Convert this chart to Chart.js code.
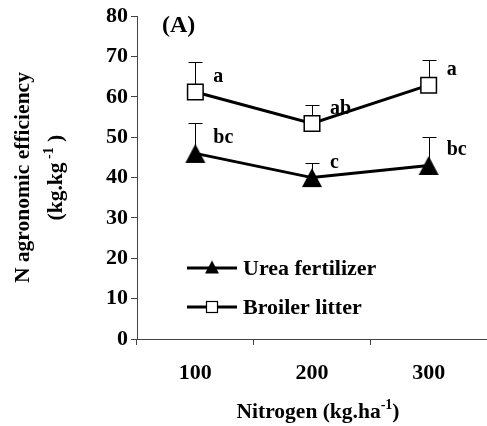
<!DOCTYPE html>
<html>
<head>
<meta charset="utf-8">
<title>N agronomic efficiency</title>
<script src="https://cdn.jsdelivr.net/npm/chart.js"></script>
<style>
  html, body { margin: 0; padding: 0; background: #fff; overflow: hidden; }
  #wrap { width: 500px; height: 426px; }
</style>
</head>
<body>
<div id="wrap"><canvas id="aeChart"></canvas></div>
<script>
const categories = ['100', '200', '300'];
const ureaValues = [46.0, 40.0, 43.0];
const ureaErrors = [7.5, 3.6, 7.1];
const ureaLetters = ['bc', 'c', 'bc'];
const litterValues = [61.2, 53.4, 62.9];
const litterErrors = [7.4, 4.5, 6.2];
const litterLetters = ['a', 'ab', 'a'];
const yMin = 0, yMax = 80, yStep = 10;

const FONT = '"Liberation Serif", "Times New Roman", serif';

// filled triangle, sits a bit low on the point like the original
function triangleMarker(w, h) {
  const c = document.createElement('canvas');
  c.width = w + 2; c.height = h + 2;
  const g = c.getContext('2d');
  g.fillStyle = '#000';
  g.beginPath();
  g.moveTo(c.width / 2, 1);
  g.lineTo(c.width - 1, h + 1);
  g.lineTo(1, h + 1);
  g.closePath();
  g.fill();
  return c;
}
const bigTriangle = triangleMarker(20, 19);
const smallTriangle = triangleMarker(14, 13);

// text with a superscript piece, parts = [[text, isSup], ...]
function drawParts(ctx, parts, x, y, size) {
  const supSize = Math.round(size * 0.65);
  let total = 0;
  parts.forEach(p => {
    ctx.font = 'bold ' + (p[1] ? supSize : size) + 'px ' + FONT;
    total += ctx.measureText(p[0]).width;
  });
  let cx = x - total / 2;
  ctx.textAlign = 'left';
  ctx.textBaseline = 'alphabetic';
  parts.forEach(p => {
    ctx.font = 'bold ' + (p[1] ? supSize : size) + 'px ' + FONT;
    ctx.fillText(p[0], cx, p[1] ? y - size * 0.4 : y);
    cx += ctx.measureText(p[0]).width;
  });
}

const errorBars = {
  id: 'errorBars',
  beforeDatasetsDraw(chart) {
    const { ctx, scales: { x, y } } = chart;
    ctx.save();
    ctx.strokeStyle = '#000';
    ctx.lineWidth = 1;
    chart.data.datasets.forEach(ds => {
      ds.data.forEach((v, i) => {
        const px = Math.round(x.getPixelForValue(i)) + 0.5;
        const base = y.getPixelForValue(v);
        const top = Math.round(y.getPixelForValue(v + ds.errors[i])) + 0.5;
        ctx.beginPath();
        ctx.moveTo(px, base);
        ctx.lineTo(px, top);
        ctx.moveTo(px - 7, top);
        ctx.lineTo(px + 7, top);
        ctx.stroke();
      });
    });
    ctx.restore();
  }
};

const decorations = {
  id: 'decorations',
  afterDraw(chart) {
    const { ctx, chartArea: area, scales: { x, y } } = chart;
    ctx.save();
    ctx.fillStyle = '#000';

    // significance letters
    ctx.font = 'bold 20px ' + FONT;
    ctx.textAlign = 'left';
    ctx.textBaseline = 'alphabetic';
    chart.data.datasets.forEach(ds => {
      ds.data.forEach((v, i) => {
        ctx.fillText(ds.letters[i], x.getPixelForValue(i) + 18, y.getPixelForValue(v) - 10);
      });
    });

    // panel tag
    ctx.font = 'bold 24px ' + FONT;
    ctx.fillText('(A)', area.left + 25, area.top + 16);

    // legend inside the plot
    const rows = [area.bottom - 71, area.bottom - 32];
    chart.data.datasets.forEach((ds, i) => {
      const ly = rows[i];
      const lx = area.left + 50;
      ctx.strokeStyle = '#000';
      ctx.lineWidth = 3;
      ctx.beginPath();
      ctx.moveTo(lx, ly);
      ctx.lineTo(lx + 50, ly);
      ctx.stroke();
      if (ds.pointStyle === 'rect') {
        ctx.fillStyle = '#fff';
        ctx.fillRect(lx + 19.5, ly - 5.5, 11, 11);
        ctx.lineWidth = 1.2;
        ctx.strokeRect(lx + 19.5, ly - 5.5, 11, 11);
        ctx.fillStyle = '#000';
      } else {
        ctx.drawImage(smallTriangle, lx + 25 - smallTriangle.width / 2, ly - smallTriangle.height / 2 - 1);
      }
      ctx.font = 'bold 22px ' + FONT;
      ctx.textAlign = 'left';
      ctx.textBaseline = 'middle';
      ctx.fillText(ds.label, lx + 56, ly + 1);
    });

    // axis titles
    drawParts(ctx, [['Nitrogen (kg.ha', false], ['-1', true], [')', false]],
      (area.left + area.right) / 2 + 6, area.bottom + 79, 21.5);

    ctx.translate(0, (area.top + area.bottom) / 2);
    ctx.rotate(-Math.PI / 2);
    drawParts(ctx, [['N agronomic efficiency', false]], 0, 29, 21.5);
    drawParts(ctx, [['(kg.kg', false], [' -1', true], [' )', false]], 0, 62, 21.5);
    ctx.restore();
  }
};

new Chart(document.getElementById('aeChart'), {
  type: 'line',
  data: {
    labels: categories,
    datasets: [
      {
        label: 'Urea fertilizer',
        data: ureaValues,
        errors: ureaErrors,
        letters: ureaLetters,
        borderColor: '#000',
        borderWidth: 3,
        pointStyle: bigTriangle,
        pointRadius: 10,
        tension: 0
      },
      {
        label: 'Broiler litter',
        data: litterValues,
        errors: litterErrors,
        letters: litterLetters,
        borderColor: '#000',
        borderWidth: 3,
        pointStyle: 'rect',
        pointRadius: 11,
        pointBackgroundColor: '#fff',
        pointBorderColor: '#000',
        pointBorderWidth: 1.5,
        tension: 0
      }
    ]
  },
  options: {
    responsive: true,
    maintainAspectRatio: false,
    animation: false,
    events: [],
    layout: { padding: { top: 16, right: 6, left: 0, bottom: 0 } },
    plugins: { legend: { display: false }, tooltip: { enabled: false } },
    scales: {
      x: {
        offset: true,
        afterFit(scale) { scale.height = 87; },
        grid: { offset: true, drawOnChartArea: false, tickLength: 6, color: '#444' },
        border: { color: '#444', width: 1 },
        ticks: { color: '#000', padding: 15, font: { family: FONT, size: 22, weight: 'bold' } }
      },
      y: {
        min: yMin,
        max: yMax,
        afterFit(scale) { scale.width = 137; },
        grid: { drawOnChartArea: false, tickLength: 6, color: '#444' },
        border: { color: '#444', width: 1 },
        ticks: { stepSize: yStep, color: '#000', padding: 3, font: { family: FONT, size: 22, weight: 'bold' } }
      }
    }
  },
  plugins: [errorBars, decorations]
});
</script>
</body>
</html>
